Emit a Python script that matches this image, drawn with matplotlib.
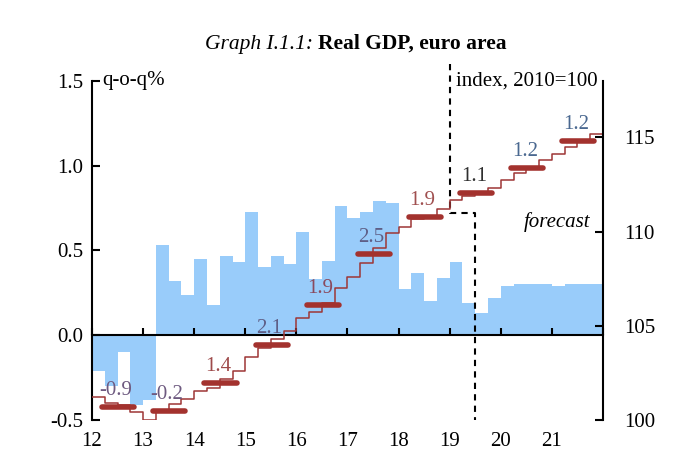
from matplotlib import pyplot as plt
import numpy as np

plt.rcParams['font.family'] = ['Liberation Serif', 'DejaVu Serif']

years = list(range(2012, 2022))

# q-o-q growth, 2012Q1 .. 2021Q4
qoq = [
	-0.21, -0.30, -0.10, -0.41,
	-0.38, 0.53, 0.32, 0.24,
	0.45, 0.18, 0.47, 0.43,
	0.73, 0.40, 0.47, 0.42,
	0.61, 0.33, 0.44, 0.76,
	0.69, 0.73, 0.79, 0.78,
	0.27, 0.37, 0.20, 0.34,
	0.43, 0.19, 0.13, 0.22,
	0.29, 0.30, 0.30, 0.30,
	0.29, 0.30, 0.30, 0.30,
]

# quarterly index, 2010=100
index_q = [
	101.2, 100.9, 100.8, 100.4,
	100.0, 100.5, 100.85, 101.1,
	101.55, 101.7, 102.2, 102.6,
	103.35, 103.8, 104.3, 104.75,
	105.4, 105.75, 106.2, 107.0,
	107.6, 108.35, 109.15, 109.95,
	110.25, 110.65, 110.85, 111.2,
	111.7, 111.9, 112.05, 112.3,
	112.75, 113.1, 113.45, 113.8,
	114.15, 114.5, 114.85, 115.2,
]

# annual index level and annual growth
index_a = [100.7, 100.5, 101.95, 104.0, 106.1, 108.8, 110.8, 112.05, 113.4, 114.8]
growth_a = [-0.9, -0.2, 1.4, 2.1, 1.9, 2.5, 1.9, 1.1, 1.2, 1.2]

label_colors = ['#6E5A80', '#6E5A80', '#9E4A4A', '#5E5E86', '#8A4A5E',
	'#5E5E86', '#A05050', '#303030', '#4A6890', '#4A6890']

blue = '#99CCFA'
red_thick = '#A3322E'
red_thin = '#9E3636'
fs = 15

fig = plt.figure(figsize=(7, 4.5), dpi=100)
ax = fig.add_axes([0.1314, 0.0667, 0.73, 0.7533])
ax2 = ax.twinx()

quarters = 2012 + 0.25*np.arange(len(qoq))
ax.bar(quarters, qoq, width=0.25, align='edge', color=blue, linewidth=0)

ax.set_xlim(2012, 2022)
ax.set_ylim(-0.5, 1.5)
ax.set_yticks([-0.5, 0.0, 0.5, 1.0, 1.5])
ax.set_yticklabels(['-0.5', '0.0', '0.5', '1.0', '1.5'])
ax.set_xticks(range(2012, 2023))
ax.set_xticklabels([str(y)[2:] for y in years] + [''])

for s in ['top', 'right']:
	ax.spines[s].set_visible(False)
ax.spines['bottom'].set_position(('data', 0))
ax.spines['bottom'].set_linewidth(1.5)
ax.spines['left'].set_linewidth(1.5)
ax.tick_params(axis='y', direction='in', length=6, width=1.5, labelsize=fs, pad=6)
ax.tick_params(axis='x', direction='in', length=5, width=1.5, labelsize=fs, pad=70)

# right axis: index
ax2.set_ylim(100, 118)
ax2.set_yticks([100, 105, 110, 115])
for s in ['top', 'left', 'bottom']:
	ax2.spines[s].set_visible(False)
ax2.spines['right'].set_linewidth(1.5)
ax2.tick_params(axis='y', direction='in', length=6, width=1.5, labelsize=fs, pad=15)

xs = list(quarters) + [2022]
ax2.plot(xs, index_q + [index_q[-1]], drawstyle='steps-post', color=red_thin, linewidth=1.1)

for y, lvl, g, c in zip(years, index_a, growth_a, label_colors):
	ax2.plot([y + 0.2, y + 0.83], [lvl, lvl], color=red_thick, linewidth=4,
		solid_capstyle='round')
	ax2.annotate(f'{g:.1f}', (y + 0.47, lvl), xytext=(0, 5), textcoords='offset points',
		ha='center', va='bottom', fontsize=fs, color=c)

# forecast divider
ax.plot([2019, 2019, 2019.5, 2019.5], [1.6, 0.72, 0.72, -0.5], color='black',
	linewidth=1.5, linestyle=(0, (3, 2.5)), clip_on=False)

ax.text(2012.2, 1.5, 'q-o-q%', fontsize=fs, va='center', ha='left')
ax.text(2021.9, 1.5, 'index, 2010=100', fontsize=fs, va='center', ha='right')
ax.text(2021.75, 0.665, 'forecast', fontsize=fs, style='italic', va='center', ha='right')

t1 = fig.text(205/700, 1 - 49/450, 'Graph I.1.1: ', fontsize=15.5, style='italic',
	ha='left', va='baseline')
ax.annotate('Real GDP, euro area', xy=(1, 0), xycoords=t1, fontsize=15.5,
	fontweight='bold', ha='left', va='bottom', annotation_clip=False)

fig.savefig('out.png')
